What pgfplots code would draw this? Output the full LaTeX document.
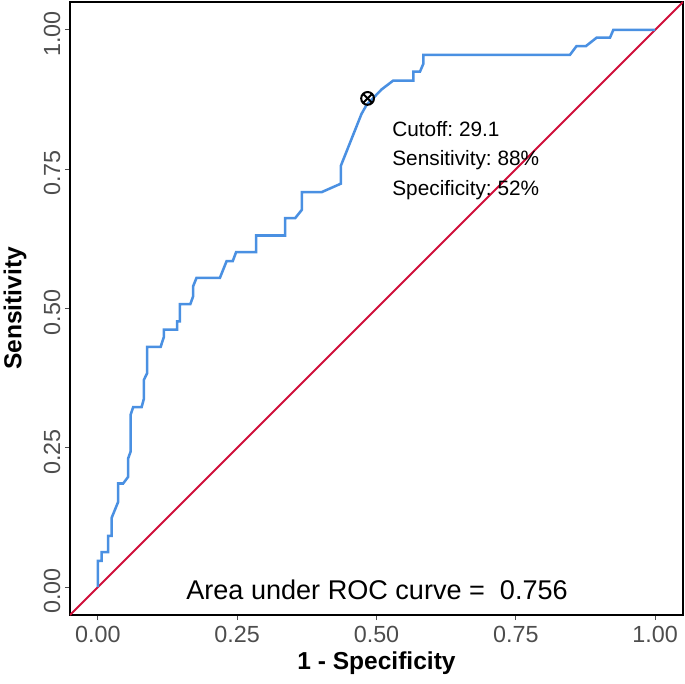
\documentclass[border=0pt]{standalone}
\usepackage{pgfplots}
\pgfplotsset{compat=1.18}
\usepackage{fontspec}
\setmainfont{Liberation Sans}
\usetikzlibrary{plotmarks}
\definecolor{rocblue}{RGB}{74,144,226}
\definecolor{rocred}{RGB}{208,16,58}
\definecolor{tickgray}{RGB}{77,77,77}
\frenchspacing
\begin{document}
\begin{tikzpicture}[x=0.75pt,y=0.75pt]
\begin{axis}[
  name=ax,
  scale only axis,
  width=459.75pt, height=459.75pt,
  xmin=-0.05, xmax=1.05, ymin=-0.05, ymax=1.05,
  axis line style={black, line width=1.6pt},
  xtick={0,0.25,0.5,0.75,1},
  ytick={0,0.25,0.5,0.75,1},
  xticklabels={0.00,0.25,0.50,0.75,1.00},
  yticklabels={0.00,0.25,0.50,0.75,1.00},
  tick align=outside,
  major tick length=3.75pt,
  tick style={tickgray, line width=0.9pt},
  xtick pos=bottom, ytick pos=left,
  /pgf/number format/assume math mode=true,
  ticklabel style={font=\fontsize{17.5}{20}\selectfont, text=tickgray},
  yticklabel style={rotate=90, anchor=south, xshift=-3pt},
  xticklabel style={yshift=-1pt},
  xlabel={\textbf{1 - Specificity}},
  ylabel={\textbf{Sensitivity}},
  xlabel style={font=\fontsize{18.4}{22}\selectfont, at={(axis description cs:0.5,-0.0783)}, anchor=center},
  ylabel style={font=\fontsize{18.4}{22}\selectfont, at={(axis description cs:-0.0897,0.5)}, anchor=center, rotate=0},
  clip=true,
]
\addplot[rocred, line width=1.5pt] coordinates {(-0.05,-0.05) (1.05,1.05)};
\addplot[rocblue, line width=1.9pt] coordinates {
(0,0) (0,0.047) (0.0066,0.047) (0.0066,0.063) (0.0185,0.063) (0.0185,0.092)
(0.0246,0.092) (0.0246,0.124) (0.0364,0.153) (0.0364,0.186) (0.0454,0.186)
(0.0544,0.198) (0.0544,0.231) (0.0587,0.243) (0.0587,0.309) (0.0634,0.323)
(0.0785,0.323) (0.0826,0.338) (0.0826,0.372) (0.0885,0.384) (0.0885,0.431)
(0.1126,0.431) (0.1185,0.449) (0.1185,0.462) (0.1424,0.462) (0.1424,0.477)
(0.1472,0.477) (0.1472,0.508) (0.166,0.508) (0.171,0.522) (0.171,0.540)
(0.177,0.555) (0.219,0.555) (0.231,0.585) (0.242,0.585) (0.248,0.601)
(0.284,0.601) (0.284,0.631) (0.336,0.631) (0.336,0.662) (0.354,0.662)
(0.366,0.677) (0.366,0.709) (0.402,0.709) (0.436,0.724) (0.436,0.756)
(0.473,0.849) (0.482,0.865) (0.509,0.893) (0.530,0.909) (0.566,0.909)
(0.566,0.925) (0.578,0.925) (0.584,0.939) (0.584,0.955) (0.847,0.955)
(0.859,0.971) (0.876,0.971) (0.895,0.986) (0.919,0.986) (0.925,1.0) (1,1)
};
\addplot[only marks, mark=otimes, mark size=4.8pt, mark options={black, line width=1.5pt}] coordinates {(0.484,0.877)};
\node[anchor=west, font=\fontsize{15.6}{18}\selectfont] at (axis cs:0.520,0.822) {Cutoff: 29.1};
\node[anchor=west, font=\fontsize{15.6}{18}\selectfont] at (axis cs:0.520,0.767) {Sensitivity: 88\%};
\node[anchor=west, font=\fontsize{15.6}{18}\selectfont] at (axis cs:0.520,0.712) {Specificity: 52\%};
\node[anchor=center, font=\fontsize{20.3}{24}\selectfont] at (axis cs:0.501,-0.004) {Area under ROC curve =\ \ 0.756};
\end{axis}
\pgfresetboundingbox
\path (ax.south west) ++(-70,-68) rectangle ++(685,683);
\end{tikzpicture}
\end{document}
